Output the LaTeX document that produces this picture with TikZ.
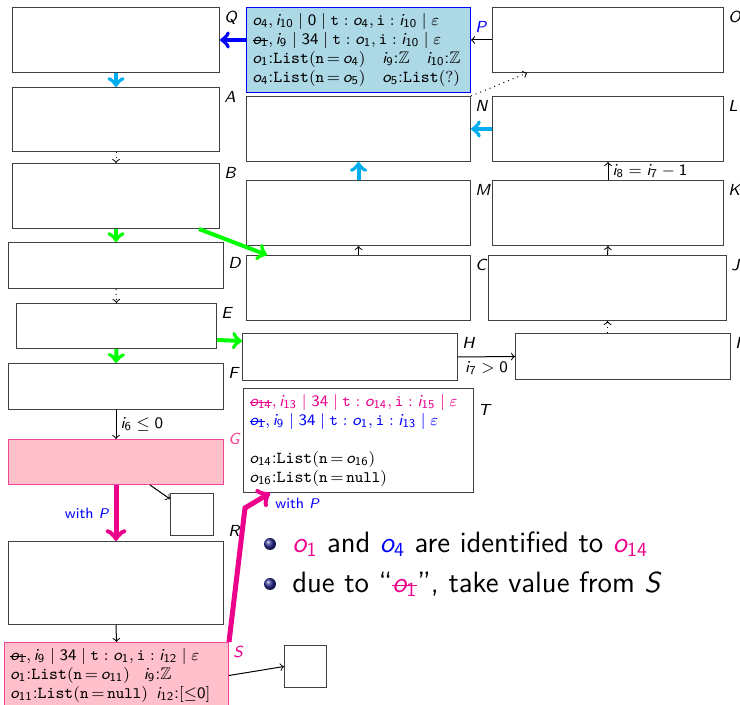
\documentclass[tikz,border=0pt]{standalone}
\usepackage{amssymb}
\usetikzlibrary{calc,shadings}
\renewcommand{\familydefault}{\sfdefault}
% sans italic letters and sans digits in math, as on the slide
\DeclareSymbolFont{sfit}{OT1}{cmss}{m}{sl}
\DeclareSymbolFont{sfup}{OT1}{cmss}{m}{n}
\DeclareMathSymbol{o}{\mathalpha}{sfit}{`o}
\DeclareMathSymbol{i}{\mathalpha}{sfit}{`i}
\DeclareMathSymbol{A}{\mathalpha}{sfit}{`A}
\DeclareMathSymbol{B}{\mathalpha}{sfit}{`B}
\DeclareMathSymbol{C}{\mathalpha}{sfit}{`C}
\DeclareMathSymbol{D}{\mathalpha}{sfit}{`D}
\DeclareMathSymbol{E}{\mathalpha}{sfit}{`E}
\DeclareMathSymbol{F}{\mathalpha}{sfit}{`F}
\DeclareMathSymbol{G}{\mathalpha}{sfit}{`G}
\DeclareMathSymbol{H}{\mathalpha}{sfit}{`H}
\DeclareMathSymbol{I}{\mathalpha}{sfit}{`I}
\DeclareMathSymbol{J}{\mathalpha}{sfit}{`J}
\DeclareMathSymbol{K}{\mathalpha}{sfit}{`K}
\DeclareMathSymbol{L}{\mathalpha}{sfit}{`L}
\DeclareMathSymbol{M}{\mathalpha}{sfit}{`M}
\DeclareMathSymbol{N}{\mathalpha}{sfit}{`N}
\DeclareMathSymbol{O}{\mathalpha}{sfit}{`O}
\DeclareMathSymbol{P}{\mathalpha}{sfit}{`P}
\DeclareMathSymbol{Q}{\mathalpha}{sfit}{`Q}
\DeclareMathSymbol{R}{\mathalpha}{sfit}{`R}
\DeclareMathSymbol{S}{\mathalpha}{sfit}{`S}
\DeclareMathSymbol{T}{\mathalpha}{sfit}{`T}
\DeclareMathSymbol{0}{\mathalpha}{sfup}{`0}
\DeclareMathSymbol{1}{\mathalpha}{sfup}{`1}
\DeclareMathSymbol{2}{\mathalpha}{sfup}{`2}
\DeclareMathSymbol{3}{\mathalpha}{sfup}{`3}
\DeclareMathSymbol{4}{\mathalpha}{sfup}{`4}
\DeclareMathSymbol{5}{\mathalpha}{sfup}{`5}
\DeclareMathSymbol{6}{\mathalpha}{sfup}{`6}
\DeclareMathSymbol{7}{\mathalpha}{sfup}{`7}
\DeclareMathSymbol{8}{\mathalpha}{sfup}{`8}
\DeclareMathSymbol{9}{\mathalpha}{sfup}{`9}
\definecolor{skyfill}{RGB}{173,216,230}
\definecolor{pinkfill}{RGB}{255,192,203}
\definecolor{pinkline}{RGB}{240,70,150}
\definecolor{deeppink}{RGB}{236,0,140}
\definecolor{arrowcyan}{RGB}{0,174,239}
\definecolor{ballblue}{RGB}{45,45,150}
\newsavebox{\strikebox}
\newcommand{\struck}[1]{\leavevmode\sbox{\strikebox}{#1}\rlap{\rule[0.5ex]{\wd\strikebox}{0.5pt}}\usebox{\strikebox}}
\newcommand{\List}{\texttt{List}}
\newcommand{\eqn}{\,{=}\,}

\begin{document}
\begin{tikzpicture}[x=0.5pt,y=-0.5pt,
  box/.style={draw=black!75, line width=0.5pt, anchor=north west, inner sep=0pt},
  sz/.style 2 args={minimum width=#1*0.5pt, minimum height=#2*0.5pt},
  tw/.style={text width=#1*0.5pt-6pt},
  lab/.style={anchor=north west, inner sep=2pt, font=\fontsize{8}{9}\selectfont},
  tag/.style={label={[lab]north east:$#1$}},
  note/.style={align=left, inner sep=3pt, font=\fontsize{8.4}{9.5}\selectfont},
  thin/.style={->, line width=0.5pt},
  dots/.style={->, dotted, line width=0.5pt},
  fat/.style={->, line width=2pt},
  edgetext/.style={font=\fontsize{8}{9}\selectfont, inner sep=2pt},
  withp/.style={font=\fontsize{7.5}{9}\selectfont, text=blue, inner sep=2pt},
  point/.style={circle, inner sep=0pt, minimum size=6pt, ball color=ballblue},
  bigtext/.style={anchor=west, inner sep=0pt, font=\fontsize{14.7}{18}\selectfont}]
  \useasboundingbox (0,0) rectangle (740,705);

  % left column
  \node[box,sz={207}{65},tag=Q] (Q) at (12,7) {};
  \node[box,sz={207}{64},tag=A] (A) at (12,87) {};
  \node[box,sz={207}{65},tag=B] (B) at (12,163) {};
  \node[box,sz={215}{46},label={[lab,yshift=-5.5pt]north east:$D$}] (D) at (8,242) {};
  \node[box,sz={200}{45},tag=E] (E) at (16,303) {};
  \node[box,sz={215}{46},tag=F] (F) at (8,363) {};
  \node[box,sz={215}{45},fill=pinkfill,draw=pinkline,
    label={[lab,anchor=west]north east:\textcolor{pinkline}{$G$}}] (G) at (8,439) {};
  \node[box,sz={43}{42}] (g2) at (170,493) {};
  \node[box,sz={215}{83},label={[lab,anchor=south west]north east:$R$}] (R) at (8,541) {};
  \node[box,note,tw=224,sz={224}{62},fill=pinkfill,draw=pinkline,
    label={[lab]north east:\textcolor{deeppink}{$S$}}] (S) at (4,642) {%
    \struck{$o_1$}$, i_9 \mid 34 \mid \mathtt{t}:o_1,\mathtt{i}:i_{12} \mid \varepsilon$\\
    $o_1$:\List$(\mathtt{n}\eqn o_{11})$\enspace\ $i_9$:$\mathbb{Z}$\\
    $o_{11}$:\List$(\mathtt{n}\eqn\mathtt{null})$\enspace $i_{12}$:$[{\leq}0]$};
  \node[box,sz={42}{42}] (s2) at (284,645) {};

  % right columns
  \node[box,note,tw=224,sz={224}{83},fill=skyfill,draw=blue,
    label={[lab,yshift=-5pt]north east:\textcolor{blue}{$P$}}] (P) at (246,7) {%
    $o_4, i_{10} \mid 0 \mid \mathtt{t}:o_4,\mathtt{i}:i_{10} \mid \varepsilon$\\
    \struck{$o_1$}$, i_9 \mid 34 \mid \mathtt{t}:o_1,\mathtt{i}:i_{10} \mid \varepsilon$\\
    $o_1$:\List$(\mathtt{n}\eqn o_4)$\quad $i_9$:$\mathbb{Z}$\quad $i_{10}$:$\mathbb{Z}$\\
    $o_4$:\List$(\mathtt{n}\eqn o_5)$\quad $o_5$:\List$(?)$};
  \node[box,sz={231}{65},tag=O] (O) at (492,7) {};
  \node[box,sz={224}{65},tag=N] (N) at (246,96) {};
  \node[box,sz={231}{65},tag=L] (L) at (492,96) {};
  \node[box,sz={224}{65},tag=M] (M) at (246,180) {};
  \node[box,sz={231}{65},tag=K] (K) at (492,180) {};
  \node[box,sz={224}{65},tag=C] (C) at (246,255) {};
  \node[box,sz={238}{65},tag=J] (J) at (488,255) {};
  \node[box,sz={215}{47},tag=H] (H) at (242,333) {};
  \node[box,sz={215}{46},tag=I] (I) at (515,333) {};
  \node[box,note,tw=230,sz={230}{102},
    label={[lab,yshift=-6pt]north east:$T$}] (T) at (243,388) {%
    \textcolor{deeppink}{\struck{$o_{14}$}$, i_{13} \mid 34 \mid \mathtt{t}:o_{14},\mathtt{i}:i_{15} \mid \varepsilon$}\\
    \textcolor{blue}{\struck{$o_1$}$, i_9 \mid 34 \mid \mathtt{t}:o_1,\mathtt{i}:i_{13} \mid \varepsilon$}\\
    \mbox{}\\
    $o_{14}$:\List$(\mathtt{n}\eqn o_{16})$\\
    $o_{16}$:\List$(\mathtt{n}\eqn\mathtt{null})$};

  % connectors
  \draw[fat,blue] (P.west |- Q.east) -- (Q.east);
  \draw[thin] (O.west) -- (O.west -| P.east);
  \draw[dots] (N.north east) -- ($(O.south west)+(35,0)$);
  \draw[fat,arrowcyan] (L.west) -- (N.east);
  \draw[fat,arrowcyan] (M.north) -- (N.south);
  \draw[fat,arrowcyan] (Q.south) -- (A.north);
  \draw[dots] (A.south) -- (B.north);
  \draw[fat,green] (B.south) -- (D.north);
  \draw[fat,green] ($(B.south east)+(-21,0)$) -- ($(C.north west)+(21,0)$);
  \draw[dots] (D.south) -- (E.north);
  \draw[fat,green] (E.south) -- (F.north);
  \draw[fat,green] ($(E.south east)+(0,-9)$) -- ($(H.north west)+(0,8)$);
  \draw[thin] (H.east) -- (I.west) node[midway,below,edgetext] {$i_7 > 0$};
  \draw[dots] (J.south |- I.north) -- (J.south);
  \draw[thin] (J.north) -- (K.south);
  \draw[thin] (K.north) -- (L.south) node[midway,right,edgetext] {$i_8 = i_7 - 1$};
  \draw[thin] (C.north) -- (M.south);
  \draw[thin] (F.south) -- (G.north) node[midway,right,edgetext] {$i_6 \leq 0$};
  \draw[thin] ($(G.south west)+(142,0)$) -- ($(g2.north west)+(0,6)$);
  \draw[fat,deeppink,line width=2.5pt] (G.south) -- (R.north) node[midway,left,withp] {with $P$};
  \draw[thin] (R.south) -- (S.north);
  \draw[thin] (S.east) -- (s2.west);
  \draw[fat,deeppink,line width=2.5pt] (S.north east) -- ++(16,-134) -- ($(T.south west)+(27,0)$);
  \node[withp,anchor=north west] (wp) at ($(T.south west)+(28,1)$) {with $P$};

  % bullets
  \node[bigtext] (b1) at (292,544)
    {\textcolor{deeppink}{$o_1$} and \textcolor{blue}{$o_4$} are identified to \textcolor{deeppink}{$o_{14}$}};
  \node[bigtext] (b2) at (292,584)
    {due to \textquotedblleft\textcolor{deeppink}{\struck{$o_1$}}\textquotedblright, take value from $S$};
  \node[point] (p1) at ($(b1.west)+(-22,0)$) {};
  \node[point] (p2) at ($(b2.west)+(-22,0)$) {};
\end{tikzpicture}
\end{document}
